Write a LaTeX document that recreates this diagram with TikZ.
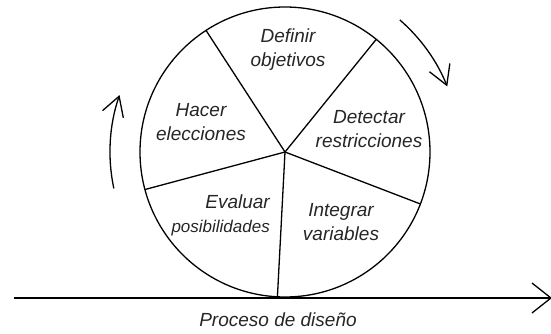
\documentclass[tikz,border=0pt]{standalone}
\usepackage{fontspec}
\setmainfont{Liberation Sans}
\usetikzlibrary{arrows.meta,calc}
\begin{document}
\begin{tikzpicture}[x=1pt,y=1pt,
  wheel/.style={line width=1.3pt},
  lbl/.style={font=\fontsize{19}{24}\selectfont\itshape, text=black!85, align=center, inner sep=0pt},
  rot/.style={line width=1.3pt, -{Straight Barb[length=19pt,width=22pt,line width=1.3pt]}}]
\useasboundingbox (0,0) rectangle (551,333);
\coordinate (c) at (285,181);
\draw[wheel] (c) circle[radius=145];
\foreach \a [count=\i] in {51,123,195,267,339}{
  \coordinate (s\i) at ($(c)+(\a:145)$);
}
\foreach \i in {1,...,5}{ \draw[wheel] (c) -- (s\i); }
% labels
\node[lbl] (def) at (288,283) {Definir\\objetivos};
\node[lbl] (det) at (369,204) {Detectar\\restricciones};
\node[lbl] (int) at (341,111) {Integrar\\variables};
\node[lbl, align=right, anchor=east] (eva) at (270,118) {Evaluar\\{\fontsize{17}{24}\selectfont posibilidades}};
\node[lbl] (hac) at (201,211) {Hacer\\elecciones};
\node[lbl] (pro) at (278,13) {Proceso de diseño};
% rotation arrows
\coordinate (r1) at ($(c)+(49:175)$);
\coordinate (r2) at ($(c)+(192:175)$);
\draw[rot] (r1) arc[start angle=49, end angle=22, radius=175];
\draw[rot] (r2) arc[start angle=192, end angle=161, radius=175];
% baseline arrow
\coordinate (b0) at (14,35);
\coordinate (b1) at (552,35);
\draw[line width=1.3pt, -{Straight Barb[length=19pt,width=30pt,line width=1.3pt]}] (b0) -- (b1);
\end{tikzpicture}
\end{document}
